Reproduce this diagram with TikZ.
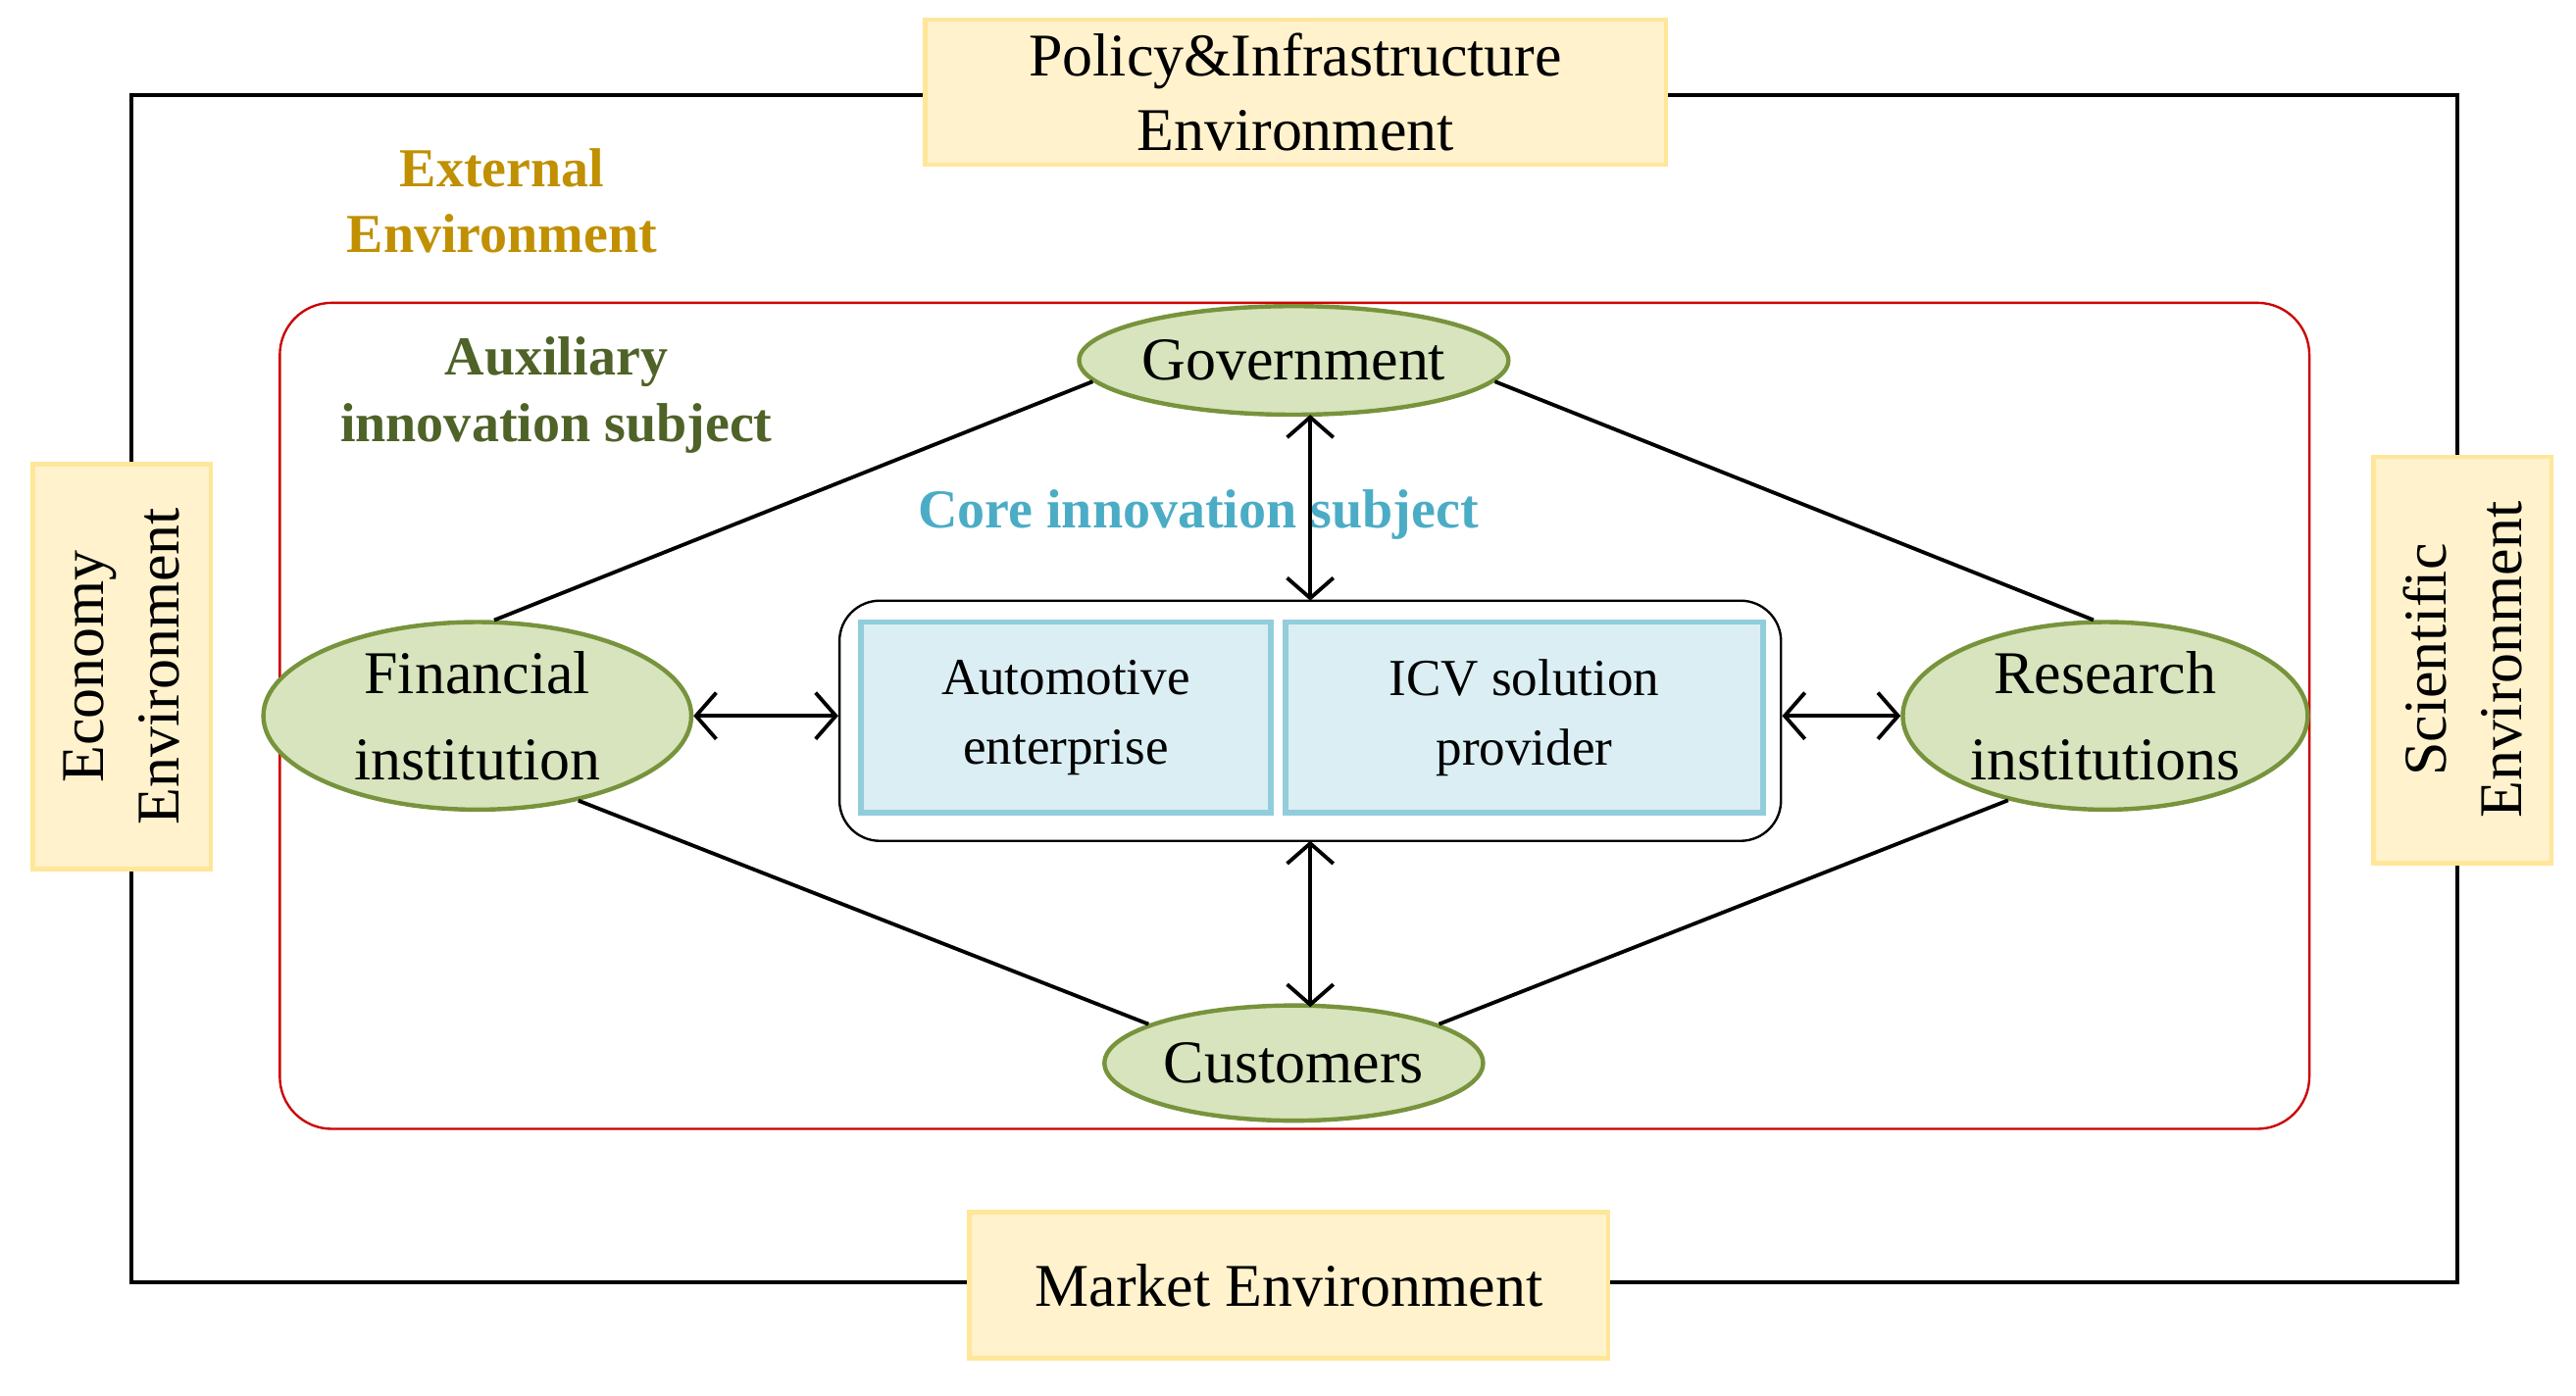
\documentclass[tikz,border=0pt]{standalone}
\usepackage{fontspec}
\setmainfont{Liberation Serif}
\usetikzlibrary{shapes.geometric,arrows.meta,calc}
\definecolor{ybox}{HTML}{FFF2CC}
\definecolor{ybord}{HTML}{FFE699}
\definecolor{gfill}{HTML}{D7E4BD}
\definecolor{gbord}{HTML}{77933C}
\definecolor{bfill}{HTML}{DAEEF3}
\definecolor{bbord}{HTML}{92CDDC}
\definecolor{gold}{HTML}{C09000}
\definecolor{olive}{HTML}{4F6228}
\definecolor{cyanl}{HTML}{4BACC6}
\begin{document}
\begin{tikzpicture}[x=0.02cm,y=-0.02cm,
 env/.style={draw=ybord,fill=ybox,line width=1.5pt,align=center,inner sep=0pt,font=\fontsize{21}{26}\selectfont},
 ell/.style={ellipse,draw=gbord,fill=gfill,line width=1.5pt,inner sep=0pt,align=center,font=\fontsize{21}{30}\selectfont},
 sub/.style={draw=bbord,fill=bfill,line width=2pt,align=center,inner sep=0pt,font=\fontsize{18}{24}\selectfont},
 lbl/.style={font=\bfseries\fontsize{19}{23}\selectfont,align=center},
 link/.style={line width=1.3pt},
 arr/.style={line width=1.3pt,{Straight Barb[length=7pt,width=16pt]}-{Straight Barb[length=7pt,width=16pt]}}]
\useasboundingbox (0,0) rectangle (1565,848);
\draw[line width=1.3pt] (80,58) rectangle (1493,779);
\node[env,minimum width=450*0.02cm,minimum height=88*0.02cm] (pol) at (787,56) {Policy\&Infrastructure\\Environment};
\node[env,minimum width=388*0.02cm,minimum height=89*0.02cm] (mkt) at (783,781) {Market Environment};
\node[env,minimum width=108*0.02cm,minimum height=246*0.02cm] (eco) at (74,405) {};
\node[rotate=90,align=center,font=\fontsize{21}{26}\selectfont] (ecot) at (eco) {Economy\\Environment};
\node[env,minimum width=108*0.02cm,minimum height=247*0.02cm] (sci) at (1496,401) {};
\node[rotate=90,align=center,font=\fontsize{21}{26}\selectfont] (scit) at (sci) {Scientific\\Environment};
\node[lbl,text=gold] (ext) at (305,122) {External\\Environment};
\draw[red!80!black,line width=0.8pt,rounded corners=18pt] (170,184) rectangle (1403,686);
\node[lbl,text=olive] (aux) at (338,240) {Auxiliary\\innovation subject};
\node[lbl,text=cyanl] (core) at (728,313) {Core innovation subject};
\node[draw,rounded corners=14pt,line width=0.8pt,fill=white,minimum width=572*0.02cm,minimum height=146*0.02cm] (cb) at (796,438) {};
\node[sub,minimum width=249*0.02cm,minimum height=116*0.02cm] (auto) at (647.5,436) {Automotive\\enterprise};
\node[sub,minimum width=290*0.02cm,minimum height=116*0.02cm] (icv) at (926,436) {ICV solution\\provider};
\node[ell,minimum width=230*0.02cm,minimum height=66*0.02cm] (gov) at (786,219) {Government};
\node[ell,minimum width=260*0.02cm,minimum height=114*0.02cm] (fin) at (290,435) {Financial\\institution};
\node[ell,minimum width=246*0.02cm,minimum height=114*0.02cm] (res) at (1279,435) {Research\\institutions};
\node[ell,minimum width=230*0.02cm,minimum height=70*0.02cm] (cus) at (786,646) {Customers};
\draw[link] (gov.186) -- (fin.80);
\draw[link] (gov.354) -- (res.97);
\draw[link] (fin.320) -- (cus.165);
\draw[link] (res.221) -- (cus.15);
\draw[arr] (fin.east) -- (cb.west|-fin.east);
\draw[arr] (cb.east|-res.west) -- (res.west);
\coordinate (g1) at (796,252); \coordinate (c1) at (796,365);
\coordinate (c2) at (796,511); \coordinate (u1) at (796,612);
\draw[arr] (g1) -- (c1);
\draw[arr] (c2) -- (u1);
\end{tikzpicture}
\end{document}
